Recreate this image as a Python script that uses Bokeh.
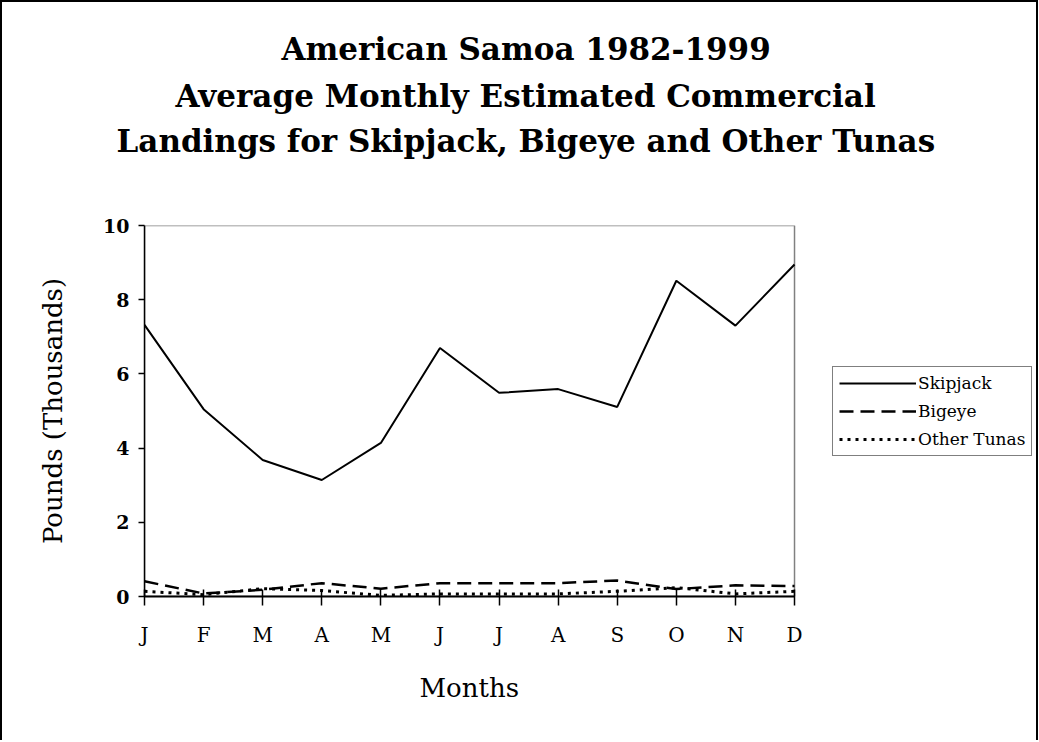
from bokeh.plotting import figure
from bokeh.models import Range1d, FixedTicker, Legend, LegendItem, Title, BoxAnnotation
from bokeh.embed import file_html
from bokeh.resources import INLINE

months = ["J", "F", "M", "A", "M", "J", "J", "A", "S", "O", "N", "D"]
skipjack = [7.32, 5.05, 3.68, 3.14, 4.14, 6.70, 5.49, 5.59, 5.11, 8.51, 7.30, 8.95]
bigeye = [0.41, 0.08, 0.18, 0.36, 0.21, 0.36, 0.36, 0.36, 0.43, 0.20, 0.30, 0.28]
other_tunas = [0.14, 0.05, 0.21, 0.16, 0.03, 0.07, 0.07, 0.07, 0.14, 0.24, 0.07, 0.14]
y_ticks = [0, 2, 4, 6, 8, 10]
x = list(range(len(months)))

SERIF = "DejaVu Serif"
X_END = len(months) - 1          # last month position
Y_END = y_ticks[-1]

# The frame is extended to the right so that the legend lives inside it;
# the axis is bounded to the month positions.
p = figure(width=1038, height=740, output_backend="svg", toolbar_location=None,
           x_range=Range1d(0, 15.095), y_range=Range1d(0, Y_END),
           min_border_left=142, min_border_right=4, min_border_top=0, min_border_bottom=0)
p.styles = {"border-left": "2px solid black", "border-top": "2px solid black",
            "border-right": "2px solid black"}
p.background_fill_color = "white"
p.border_fill_color = "white"
p.grid.visible = False
p.outline_line_color = None

# plot-area box (grey top/right edges; left/bottom covered by the axes)
p.add_layout(BoxAnnotation(left=0, right=X_END, bottom=0, top=Y_END, fill_alpha=0,
                           line_color="#808080", line_alpha=1, line_width=1.5,
                           level="underlay"))

# axes
p.xaxis.bounds = (0, X_END)
p.xaxis.ticker = FixedTicker(ticks=x)
p.xaxis.major_label_overrides = {i: m for i, m in enumerate(months)}
p.xaxis.axis_line_width = 2
p.xaxis.axis_line_color = "black"
p.xaxis.major_tick_in = 7
p.xaxis.major_tick_out = 9
p.xaxis.major_tick_line_width = 1.5
p.xaxis.minor_tick_line_color = None
p.xaxis.major_label_standoff = 17
p.xaxis.major_label_text_font = SERIF
p.xaxis.major_label_text_font_size = "20px"
p.xaxis.major_label_text_color = "black"

p.yaxis.ticker = FixedTicker(ticks=y_ticks)
p.yaxis.axis_line_width = 1.5
p.yaxis.axis_line_color = "black"
p.yaxis.major_tick_in = 0
p.yaxis.major_tick_out = 6
p.yaxis.major_tick_line_width = 1.5
p.yaxis.minor_tick_line_color = None
p.yaxis.major_label_standoff = 9
p.yaxis.major_label_text_font = SERIF
p.yaxis.major_label_text_font_size = "19px"
p.yaxis.major_label_text_font_style = "bold"
p.yaxis.major_label_text_color = "black"
p.yaxis.axis_label = "Pounds (Thousands)"
p.yaxis.axis_label_text_font = SERIF
p.yaxis.axis_label_text_font_size = "26px"
p.yaxis.axis_label_text_font_style = "normal"
p.yaxis.axis_label_text_color = "black"
p.yaxis.axis_label_standoff = 32

# x-axis title, centred under the month axis, then a bottom spacer
p.add_layout(Title(text="Months", align="left", offset=275, standoff=44, vertical_align="middle",
                   text_font=SERIF, text_font_size="26px", text_font_style="normal",
                   text_color="black"), "below")
p.add_layout(Title(text=" ", text_font_size="10px", standoff=4), "below")

# series
r1 = p.line(x, skipjack, line_color="black", line_width=2)
r2 = p.line(x, bigeye, line_color="black", line_width=2.5, line_dash="14 7")
r3 = p.line(x, other_tunas, line_color="black", line_width=3, line_dash="3 5")

legend = Legend(items=[LegendItem(label="Skipjack", renderers=[r1]),
                       LegendItem(label="Bigeye", renderers=[r2]),
                       LegendItem(label="Other Tunas", renderers=[r3])],
                location=(688, 140), orientation="vertical",
                border_line_color="black", border_line_width=1,
                background_fill_color="white", background_fill_alpha=1,
                label_text_font=SERIF, label_text_font_size="17px",
                label_text_color="black",
                glyph_width=77, glyph_height=20, label_height=20,
                label_standoff=2, spacing=8, padding=6, margin=0)
p.add_layout(legend, "center")

# title lines, stacked above the frame (first added sits closest to the frame)
title_lines = ["American Samoa 1982-1999",
               "Average Monthly Estimated Commercial",
               "Landings for Skipjack, Bigeye and Other Tunas"]
title_offsets = [137, 31, -28]
title_standoffs = [8, 10, 4]
p.add_layout(Title(text=" ", text_font_size="26px", standoff=32), "above")
for t, off, so in reversed(list(zip(title_lines, title_offsets, title_standoffs))):
    p.add_layout(Title(text=t, align="left", offset=off, standoff=so, vertical_align="middle",
                       text_font=SERIF, text_font_size="31px", text_font_style="bold",
                       text_color="black"), "above")
p.add_layout(Title(text=" ", text_font_size="10px", standoff=10), "above")

open("out.html", "w").write(file_html(p, INLINE))
